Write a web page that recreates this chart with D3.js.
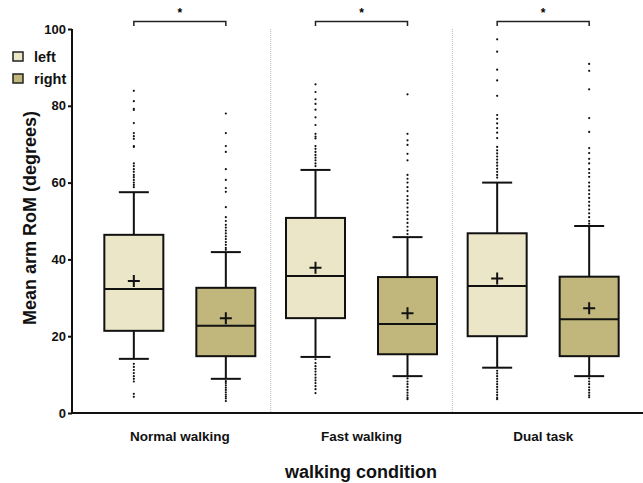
<!DOCTYPE html>
<html>
<head>
<meta charset="utf-8">
<script src="https://cdn.jsdelivr.net/npm/d3@7"></script>
<style>
  body { margin: 0; background: #fff; }
  svg { display: block; font-family: "Liberation Sans", Arial, sans-serif; }
</style>
</head>
<body>
<div id="chart"></div>
<script>
// groups and sides
const groups = ["Normal walking", "Fast walking", "Dual task"];
const sides = ["left", "right"];
const yTicks = [0, 20, 40, 60, 80, 100];

// box stats per group, [left, right]: whisker low, q1, median, q3, whisker high, mean
const whiskLow = [[14.1, 8.9], [14.6, 9.6], [11.8, 9.6]];
const q1 = [[21.4, 14.8], [24.7, 15.3], [20.0, 14.8]];
const median = [[32.3, 22.7], [35.7, 23.2], [33.1, 24.4]];
const q3 = [[46.4, 32.6], [50.8, 35.4], [46.8, 35.5]];
const whiskHigh = [[57.5, 41.9], [63.3, 45.8], [60.0, 48.7]];
const means = [[34.4, 24.7], [37.8, 26.0], [35.0, 27.3]];

// outliers
const outliers = [
  [
    [83.9, 81.2, 79.2, 78.9, 75.5, 72.9, 72.1, 71.4, 69.5, 69.3, 65.0, 64.3, 63.5, 62.8, 62.0, 61.4, 60.7, 60.0, 59.4, 58.8,
     12.8, 12.0, 11.2, 10.4, 9.6, 8.9, 8.2, 5.0, 4.2],
    [78.0, 72.9, 69.5, 68.0, 63.5, 60.7, 58.6, 57.6, 53.6, 51.0, 50.0, 49.0, 48.3, 47.5, 46.8, 46.0, 45.3, 44.5, 43.8, 43.0, 42.5,
     8.3, 7.8, 7.2, 6.6, 6.0, 5.4, 4.8, 4.3, 3.8, 3.1]
  ],
  [
    [85.6, 83.6, 81.7, 80.5, 79.0, 77.0, 75.0, 72.7, 72.0, 71.5, 69.5, 68.8, 68.0, 67.2, 66.5, 65.8, 65.0, 64.3,
     14.0, 13.0, 12.2, 11.5, 10.8, 10.0, 9.2, 8.5, 7.8, 7.0, 6.2, 5.2],
    [83.0, 72.7, 71.0, 69.8, 67.5, 65.8, 62.0, 61.0, 60.0, 58.8, 57.8, 56.5, 55.5, 54.6, 53.5, 52.4, 51.5, 50.5, 49.5, 48.5, 47.5, 46.6,
     9.0, 8.2, 7.5, 6.8, 6.0, 5.3, 4.6, 4.0, 3.6]
  ],
  [
    [97.3, 94.1, 89.4, 86.6, 82.6, 77.6, 76.6, 75.4, 74.2, 73.0, 71.6, 69.3, 68.4, 67.6, 66.8, 66.0, 65.2, 64.4, 63.6, 62.8, 62.0, 61.3,
     11.0, 10.3, 9.6, 8.9, 8.2, 7.5, 6.8, 6.1, 5.4, 4.7, 4.0, 3.6],
    [90.9, 89.1, 84.3, 76.8, 73.2, 69.0, 67.7, 66.2, 65.0, 63.5, 62.5, 61.5, 60.0, 59.0, 58.0, 57.0, 56.0, 55.0, 54.0, 53.0, 52.0, 51.0, 50.0, 49.3,
     9.0, 8.2, 7.5, 6.7, 6.0, 5.3, 4.6, 4.1]
  ]
];

const fills = { left: "#ece6c9", right: "#c1b77d" };

const width = 643, height = 483;
const svg = d3.select("#chart").append("svg")
  .attr("width", width).attr("height", height);

const y = d3.scaleLinear().domain([0, 100]).range([413, 29]);
const x = d3.scaleBand().domain(groups).range([89, 634]);
const sub = d3.scalePoint().domain(sides)
  .range([x.bandwidth() / 2 - 46, x.bandwidth() / 2 + 46]);

const boxW = 59, capW = 30, plus = 6;

// dotted group separators
svg.append("g").selectAll("line")
  .data(groups.slice(1))
  .join("line")
  .attr("x1", d => x(d)).attr("x2", d => x(d))
  .attr("y1", y(100)).attr("y2", y(0))
  .attr("stroke", "#bbb").attr("stroke-width", 1)
  .attr("stroke-dasharray", "1,1");

// boxes
const boxData = [];
groups.forEach((g, gi) => sides.forEach((s, si) => boxData.push({
  g, s, cx: x(g) + sub(s),
  lo: whiskLow[gi][si], q1: q1[gi][si], med: median[gi][si],
  q3: q3[gi][si], hi: whiskHigh[gi][si], mean: means[gi][si],
  out: outliers[gi][si]
})));

const box = svg.append("g").selectAll("g")
  .data(boxData).join("g");

// whisker stems
box.append("line")
  .attr("x1", d => d.cx).attr("x2", d => d.cx)
  .attr("y1", d => y(d.hi)).attr("y2", d => y(d.lo))
  .attr("stroke", "#111").attr("stroke-width", 2);

// caps
["lo", "hi"].forEach(k => {
  box.append("line")
    .attr("x1", d => d.cx - capW / 2).attr("x2", d => d.cx + capW / 2)
    .attr("y1", d => y(d[k])).attr("y2", d => y(d[k]))
    .attr("stroke", "#111").attr("stroke-width", 2);
});

box.append("rect")
  .attr("x", d => d.cx - boxW / 2).attr("width", boxW)
  .attr("y", d => y(d.q3)).attr("height", d => y(d.q1) - y(d.q3))
  .attr("fill", d => fills[d.s])
  .attr("stroke", "#111").attr("stroke-width", 2);

box.append("line")
  .attr("x1", d => d.cx - boxW / 2).attr("x2", d => d.cx + boxW / 2)
  .attr("y1", d => y(d.med)).attr("y2", d => y(d.med))
  .attr("stroke", "#111").attr("stroke-width", 2);

// mean plus
box.append("path")
  .attr("d", d => `M${d.cx - plus},${y(d.mean)}h${plus * 2}M${d.cx},${y(d.mean) - plus}v${plus * 2}`)
  .attr("stroke", "#111").attr("stroke-width", 2);

// outlier dots
box.selectAll("circle")
  .data(d => d.out.map(v => ({ v, cx: d.cx })))
  .join("circle")
  .attr("cx", d => d.cx).attr("cy", d => y(d.v))
  .attr("r", 1.1).attr("fill", "#111");

// significance brackets
const br = svg.append("g").selectAll("g").data(groups).join("g");
br.append("path")
  .attr("d", d => {
    const a = x(d) + sub("left"), b = x(d) + sub("right");
    return `M${a},26V21.5H${b}V26`;
  })
  .attr("fill", "none").attr("stroke", "#222").attr("stroke-width", 1.5);
br.append("text")
  .attr("x", d => x(d) + x.bandwidth() / 2).attr("y", 17)
  .attr("text-anchor", "middle").attr("font-size", 12).attr("font-weight", "bold")
  .text("*");

// axes
const yAxis = svg.append("g")
  .attr("transform", "translate(72,0)")
  .call(d3.axisLeft(y).tickValues(yTicks).tickSize(4).tickPadding(2));
yAxis.select(".domain").attr("stroke", "#111").attr("stroke-width", 2).attr("d", `M0,${y(100)}V${y(0)}`);
yAxis.selectAll(".tick line").attr("stroke", "#111").attr("stroke-width", 2);
yAxis.selectAll(".tick text")
  .attr("font-size", 13).attr("font-weight", "bold")
  .attr("font-family", "'Liberation Sans', Arial, sans-serif").attr("fill", "#111");

svg.append("line")
  .attr("x1", 71).attr("x2", 643)
  .attr("y1", y(0)).attr("y2", y(0))
  .attr("stroke", "#111").attr("stroke-width", 2);

// category labels
svg.append("g").selectAll("text")
  .data(groups).join("text")
  .attr("x", d => x(d) + x.bandwidth() / 2).attr("y", 441)
  .attr("text-anchor", "middle").attr("font-size", 13.5).attr("font-weight", "bold")
  .attr("fill", "#111")
  .text(d => d);

// axis titles
svg.append("text")
  .attr("x", 361).attr("y", 478)
  .attr("text-anchor", "middle").attr("font-size", 18).attr("font-weight", "bold")
  .attr("fill", "#111")
  .text("walking condition");

svg.append("text")
  .attr("transform", "translate(36,218) rotate(-90)")
  .attr("text-anchor", "middle").attr("font-size", 18).attr("font-weight", "bold")
  .attr("fill", "#111")
  .text("Mean arm RoM (degrees)");

// legend
const legend = svg.append("g").selectAll("g")
  .data(sides).join("g")
  .attr("transform", (d, i) => `translate(13,${52 + i * 22})`);
legend.append("rect")
  .attr("width", 10).attr("height", 9)
  .attr("fill", d => fills[d]).attr("stroke", "#222").attr("stroke-width", 1.5);
legend.append("text")
  .attr("x", 21).attr("y", 9.5)
  .attr("font-size", 14.5).attr("font-weight", "bold").attr("fill", "#111")
  .text(d => d);
</script>
</body>
</html>
